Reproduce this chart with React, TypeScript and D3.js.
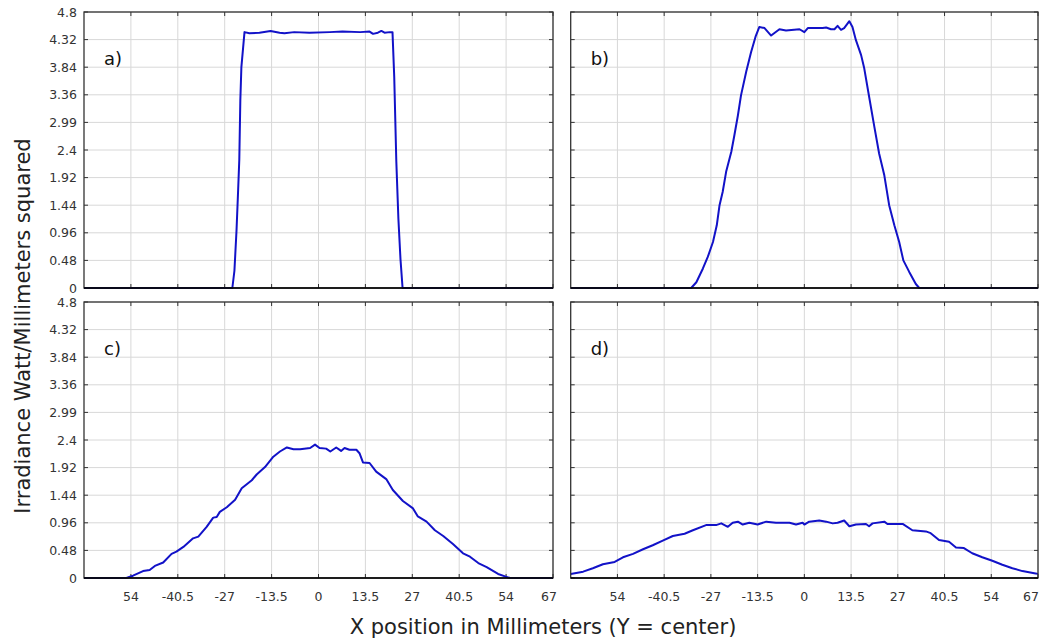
import * as d3 from 'd3';
import React, { useEffect, useRef } from 'react';

// x ticks (mm) and how they are printed under the bottom panels
const xTicks = [-54, -40.5, -27, -13.5, 0, 13.5, 27, 40.5, 54, 67.5];
const xTickLabels = ['54', '-40.5', '-27', '-13.5', '0', '13.5', '27', '40.5', '54', '67'];
const yTicks = [0, 0.48, 0.96, 1.44, 1.92, 2.4, 2.88, 3.36, 3.84, 4.32, 4.8];
const yTickLabels = ['0', '0.48', '0.96', '1.44', '1.92', '2.4', '2.99', '3.36', '3.84', '4.32', '4.8'];

const panelLabels = ['a)', 'b)', 'c)', 'd)'];

// a) flat top
const profileA: [number, number][] = [
  [-67.5, 0], [-24.8, 0], [-24.2, 0.3], [-23.6, 1.0], [-23.2, 1.6], [-22.8, 2.23], [-22.5, 3.27],
  [-22.2, 3.84], [-21.3, 4.45], [-19.9, 4.43], [-17, 4.44], [-13.8, 4.47], [-11.2, 4.44],
  [-9.8, 4.43], [-7, 4.45], [-2.6, 4.44], [3.2, 4.45], [6.9, 4.46], [12, 4.45], [14.7, 4.46],
  [15.7, 4.42], [17.1, 4.44], [18.1, 4.47], [19.0, 4.44], [20.5, 4.45], [21.3, 4.45],
  [21.8, 3.67], [22.4, 2.2], [23.0, 1.2], [23.6, 0.5], [24.2, 0], [67.5, 0]
];

// b) trapezoid
const profileB: [number, number][] = [
  [-67.5, 0], [-32.7, 0], [-31.2, 0.1], [-29.3, 0.34], [-27.9, 0.54], [-26.4, 0.8], [-25.3, 1.09],
  [-24.5, 1.44], [-23.6, 1.67], [-22.6, 2.02], [-21.1, 2.37], [-20.2, 2.66], [-19.2, 3.0],
  [-18.3, 3.35], [-16.8, 3.76], [-15.4, 4.1], [-14.1, 4.37], [-13.0, 4.54], [-11.5, 4.52],
  [-9.6, 4.39], [-7.2, 4.5], [-5.3, 4.48], [-1.4, 4.5], [0, 4.45], [1.0, 4.52], [5.3, 4.52],
  [6.3, 4.53], [7.7, 4.5], [8.7, 4.5], [9.6, 4.56], [10.6, 4.49], [11.5, 4.52], [13.0, 4.64],
  [13.9, 4.54], [14.9, 4.31], [16.4, 4.05], [17.3, 3.82], [18.7, 3.33], [20.2, 2.81],
  [21.6, 2.34], [23.1, 1.96], [24.5, 1.44], [26.0, 1.09], [27.4, 0.8], [28.6, 0.48],
  [30.3, 0.28], [32.2, 0.07], [33.2, 0], [67.5, 0]
];

// c) rounded bump
const profileC: [number, number][] = [
  [-67.5, 0], [-55.3, 0], [-53.4, 0.04], [-50.5, 0.12], [-48.6, 0.14], [-47.1, 0.21], [-44.7, 0.27],
  [-42.3, 0.42], [-40.9, 0.46], [-38.9, 0.54], [-36.1, 0.69], [-34.6, 0.72], [-32.2, 0.89],
  [-30.3, 1.05], [-29.3, 1.06], [-28.4, 1.15], [-26.4, 1.23], [-24.0, 1.36], [-22.1, 1.56],
  [-19.2, 1.7], [-17.8, 1.8], [-15.4, 1.93], [-13.0, 2.11], [-11.1, 2.2], [-9.1, 2.27],
  [-7.2, 2.24], [-5.3, 2.24], [-2.4, 2.26], [-1.0, 2.32], [0.3, 2.26], [2.2, 2.25], [3.4, 2.2],
  [5.1, 2.27], [6.5, 2.21], [7.5, 2.26], [8.9, 2.23], [10.9, 2.23], [11.8, 2.17], [12.8, 2.01],
  [14.7, 2.0], [16.6, 1.85], [19.5, 1.72], [21.4, 1.53], [24.3, 1.34], [27.2, 1.21], [28.6, 1.07],
  [31.1, 0.98], [33.5, 0.83], [35.9, 0.73], [38.7, 0.59], [41.6, 0.43], [43.6, 0.37], [46.0, 0.26],
  [48.4, 0.19], [51.7, 0.07], [54.1, 0.02], [55.1, 0], [67.5, 0]
];

// d) wide low plateau
const profileD: [number, number][] = [
  [-67.5, 0.07], [-63.9, 0.11], [-61.1, 0.17], [-58.2, 0.24], [-54.8, 0.28], [-52.4, 0.36],
  [-49.5, 0.42], [-46.6, 0.5], [-43.8, 0.57], [-40.9, 0.65], [-38.0, 0.73], [-34.6, 0.77],
  [-32.2, 0.83], [-28.4, 0.92], [-25.5, 0.92], [-24.0, 0.95], [-22.1, 0.89], [-20.7, 0.96],
  [-19.2, 0.98], [-17.8, 0.93], [-15.9, 0.96], [-13.5, 0.93], [-11.0, 0.98], [-8.2, 0.96],
  [-4.3, 0.96], [-2.4, 0.93], [-0.5, 0.96], [0, 0.93], [1.4, 0.98], [4.3, 1.0], [6.3, 0.98],
  [8.2, 0.95], [9.6, 0.96], [11.5, 1.0], [13.0, 0.9], [14.9, 0.93], [17.8, 0.94], [18.7, 0.9],
  [19.7, 0.95], [23.1, 0.98], [24.0, 0.94], [28.4, 0.94], [31.2, 0.83], [35.1, 0.81], [36.5, 0.78],
  [38.9, 0.66], [41.8, 0.63], [43.8, 0.53], [46.1, 0.52], [48.5, 0.43], [51.4, 0.36], [54.3, 0.3],
  [57.2, 0.23], [60.1, 0.17], [63.0, 0.12], [66.8, 0.08], [67.5, 0.07]
];

const profiles = [profileA, profileB, profileC, profileD];

export default function App() {
  const ref = useRef<SVGSVGElement>(null);

  useEffect(() => {
    const svg = d3.select(ref.current);
    svg.selectAll('*').remove();

    const cols = [[84, 553], [570.7, 1038]];
    const rows = [[12, 288], [302, 578]];
    const font = '"DejaVu Sans", Verdana, sans-serif';

    profiles.forEach((data, i) => {
      const [x0, x1] = cols[i % 2];
      const [y0, y1] = rows[Math.floor(i / 2)];
      const x = d3.scaleLinear().domain([-67.5, 67.5]).range([x0, x1]);
      const y = d3.scaleLinear().domain([0, 4.8]).range([y1, y0]);
      const g = svg.append('g');

      // grid
      g.selectAll('.vg')
        .data(xTicks)
        .enter()
        .append('line')
        .attr('x1', (d) => x(d))
        .attr('x2', (d) => x(d))
        .attr('y1', y0)
        .attr('y2', y1)
        .attr('stroke', '#d8d8d8')
        .attr('stroke-width', 1);
      g.selectAll('.hg')
        .data(yTicks)
        .enter()
        .append('line')
        .attr('x1', x0)
        .attr('x2', x1)
        .attr('y1', (d) => y(d))
        .attr('y2', (d) => y(d))
        .attr('stroke', '#d8d8d8')
        .attr('stroke-width', 1);

      // inward ticks on all sides
      const tk = 4;
      xTicks.forEach((t) => {
        g.append('line').attr('x1', x(t)).attr('x2', x(t)).attr('y1', y0).attr('y2', y0 + tk).attr('stroke', '#333');
        g.append('line').attr('x1', x(t)).attr('x2', x(t)).attr('y1', y1).attr('y2', y1 - tk).attr('stroke', '#333');
      });
      yTicks.forEach((t) => {
        g.append('line').attr('x1', x0).attr('x2', x0 + tk).attr('y1', y(t)).attr('y2', y(t)).attr('stroke', '#333');
        g.append('line').attr('x1', x1).attr('x2', x1 - tk).attr('y1', y(t)).attr('y2', y(t)).attr('stroke', '#333');
      });

      // curve
      const line = d3
        .line<[number, number]>()
        .x((d) => x(d[0]))
        .y((d) => y(d[1]));
      g.append('path')
        .attr('d', line(data))
        .attr('fill', 'none')
        .attr('stroke', '#1212c8')
        .attr('stroke-width', 2)
        .attr('stroke-linejoin', 'round');

      // frame
      g.append('rect')
        .attr('x', x0)
        .attr('y', y0)
        .attr('width', x1 - x0)
        .attr('height', y1 - y0)
        .attr('fill', 'none')
        .attr('stroke', '#333')
        .attr('stroke-width', 1.3);
      g.append('line')
        .attr('x1', x0)
        .attr('x2', x1)
        .attr('y1', y1)
        .attr('y2', y1)
        .attr('stroke', '#000')
        .attr('stroke-width', 1.6);

      // panel label
      g.append('text')
        .attr('x', x0 + 20)
        .attr('y', y0 + 53)
        .attr('font-family', font)
        .attr('font-size', 18)
        .attr('fill', '#111')
        .text(panelLabels[i]);

      if (i % 2 === 0) {
        g.selectAll('.yl')
          .data(yTicks)
          .enter()
          .append('text')
          .attr('x', x0 - 7)
          .attr('y', (d) => y(d) + 4.5)
          .attr('text-anchor', 'end')
          .attr('font-family', font)
          .attr('font-size', 12.5)
          .attr('fill', '#333')
          .text((d, j) => yTickLabels[j]);
      }
      if (i >= 2) {
        g.selectAll('.xl')
          .data(xTicks)
          .enter()
          .append('text')
          .attr('x', (d, j) => (j === xTicks.length - 1 ? Math.min(x(d) + 4, 1039) : x(d)))
          .attr('y', y1 + 23)
          .attr('text-anchor', (d, j) => (j === xTicks.length - 1 ? 'end' : 'middle'))
          .attr('font-family', font)
          .attr('font-size', 12.5)
          .attr('fill', '#333')
          .text((d, j) => xTickLabels[j]);
      }
    });

    svg
      .append('text')
      .attr('transform', 'translate(30,326) rotate(-90)')
      .attr('text-anchor', 'middle')
      .attr('font-family', font)
      .attr('font-size', 21)
      .attr('fill', '#222')
      .text('Irradiance Watt/Millimeters squared');
    svg
      .append('text')
      .attr('x', 543)
      .attr('y', 634)
      .attr('text-anchor', 'middle')
      .attr('font-family', font)
      .attr('font-size', 21)
      .attr('fill', '#222')
      .text('X position in Millimeters (Y = center)');
  }, []);

  return (
    <svg
      ref={ref}
      width={1039}
      height={641}
      style={{ position: 'absolute', left: 0, top: 0, background: '#fff' }}
    />
  );
}
